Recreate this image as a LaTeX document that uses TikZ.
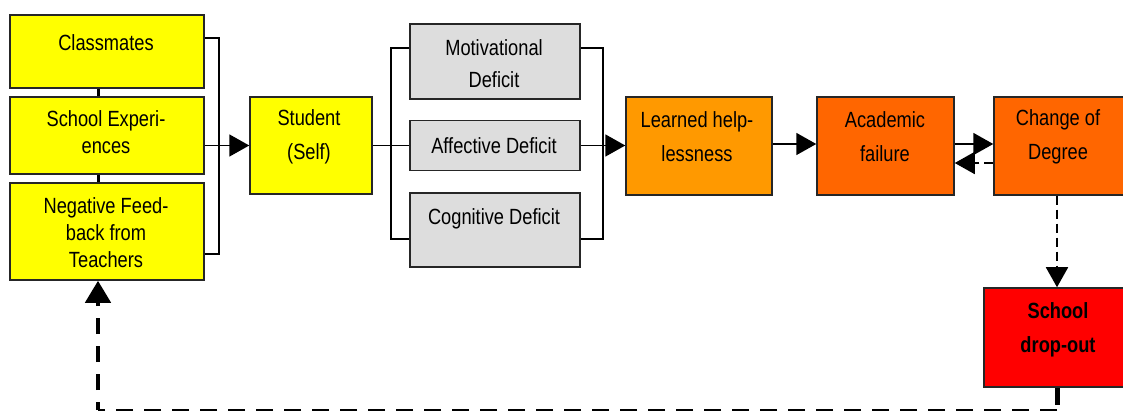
\documentclass[tikz,border=0pt]{standalone}
\usepackage{fontspec}
\setmainfont{Liberation Sans}[FakeStretch=0.83]
\usetikzlibrary{arrows.meta}

\definecolor{boxyellow}{HTML}{FFFF00}
\definecolor{boxgray}{HTML}{DDDDDD}
\definecolor{boxamber}{HTML}{FF9900}
\definecolor{boxorange}{HTML}{FF6600}
\definecolor{boxred}{HTML}{FF0000}

\tikzset{
  box/.style={rectangle,draw=black!85,line width=1.5pt,inner sep=0pt},
  txt/.style={align=center,inner sep=0pt},
  arr/.style={-{Triangle[length=20pt,width=22pt]},line width=1.8pt},
  dsh/.style={dash pattern=on 9pt off 5pt}
}

\begin{document}
\begin{tikzpicture}[x=1pt,y=-1pt]

      \useasboundingbox (0,0) rectangle (1123,411);

      \begin{scope}[every node/.style={box,fill=boxyellow}]
        \node[minimum width=194pt,minimum height=73pt] (cm) at (107,51.5)  {};
        \node[minimum width=194pt,minimum height=77pt] (se) at (107,135.5) {};
        \node[minimum width=194pt,minimum height=97pt] (nf) at (107,231.5) {};
        \node[minimum width=122pt,minimum height=97pt] (st) at (311,145.5) {};
      \end{scope}

      \begin{scope}[every node/.style={box,fill=boxgray,minimum width=170pt}]
        \node[minimum height=75pt] (md) at (495,61.5)  {};
        \node[minimum height=50pt] (ad) at (495,145.5) {};
        \node[minimum height=74pt] (cd) at (495,230)   {};
      \end{scope}

      \begin{scope}[every node/.style={box,minimum height=98pt}]
        \node[fill=boxamber,minimum width=146pt]  (lh) at (699,146)    {};
        \node[fill=boxorange,minimum width=137pt] (af) at (885.5,146)  {};
        \node[fill=boxorange,minimum width=132pt] (cg) at (1060,146)   {};
        \node[fill=boxred,minimum width=146pt,minimum height=99pt] (sd) at (1057,337.5) {};
      \end{scope}

      \begin{scope}[every node/.style={txt,font=\fontsize{22}{27}\selectfont}]
        \node (cm-t) at (106,43)   {Classmates};
        \node (se-t) at (106,132)  {School Experi-\\ences};
        \node (nf-t) at (106,233)  {Negative Feed-\\back from\\Teachers};
      \end{scope}

      \begin{scope}[every node/.style={txt,font=\fontsize{22}{32}\selectfont}]
        \node (md-t) at (494,64)    {Motivational\\Deficit};
        \node (ad-t) at (494,146)   {Affective Deficit};
        \node (cd-t) at (494,219)   {Cognitive Deficit};
      \end{scope}

      \begin{scope}[every node/.style={txt,font=\fontsize{22}{34}\selectfont}]
        \node (st-t) at (309,137)   {Student\\(Self)};
        \node (lh-t) at (697,137)   {Learned help-\\lessness};
        \node (af-t) at (885,137)   {Academic\\failure};
        \node (cg-t) at (1058,137)  {Change of\\Degree};
        \node[font=\fontsize{22}{34}\selectfont\bfseries] (sd-t) at (1058,330) {School\\drop-out};
      \end{scope}

      \begin{scope}[line width=1.8pt]
        \draw[line width=3pt] ([xshift=-9pt]cm.south) -- ([xshift=-9pt]se.north);
        \draw[line width=3pt] ([xshift=-9pt]se.south) -- ([xshift=-9pt]nf.north);
        \draw ([yshift=13.5pt]cm.east) -- ++(14,0) |- ([yshift=-22.5pt]nf.east);
        \draw[arr] ([yshift=-10pt]se.east) -- (st.west);
        \draw (st.east) -- (ad.west);
        \draw ([yshift=13.5pt]md.west) -- ++(-18,0) |- ([yshift=-9pt]cd.west);
        \draw ([yshift=13.5pt]md.east) -- ++(22,0) |- ([yshift=-9pt]cd.east);
        \draw[arr] (ad.east) -- (ad.east -| lh.west);
        \draw[arr] ([yshift=2pt]lh.east) -- ([yshift=2pt]af.west);
        \draw[arr] ([yshift=2pt]af.east) -- ([yshift=2pt]cg.west);
        \draw[arr,dsh] ([yshift=-17pt]cg.west) -- ([yshift=-17pt]af.east);
        \draw[arr,dsh] (sd.north |- cg.south) -- (sd.north);
      \end{scope}

      \coordinate (bl) at (98,410);
      \draw[line width=5pt,dash pattern=on 17pt off 11pt] (sd.south) -- (sd.south |- bl);
      \draw[line width=2pt,dash pattern=on 17pt off 11pt] (sd.south |- bl) -- (bl);
      \draw[line width=4.5pt,dash pattern=on 16pt off 12pt,dash phase=8pt,
            -{Triangle[length=22pt,width=25pt]}] (bl) -- (nf.south -| bl);

\end{tikzpicture}
\end{document}
